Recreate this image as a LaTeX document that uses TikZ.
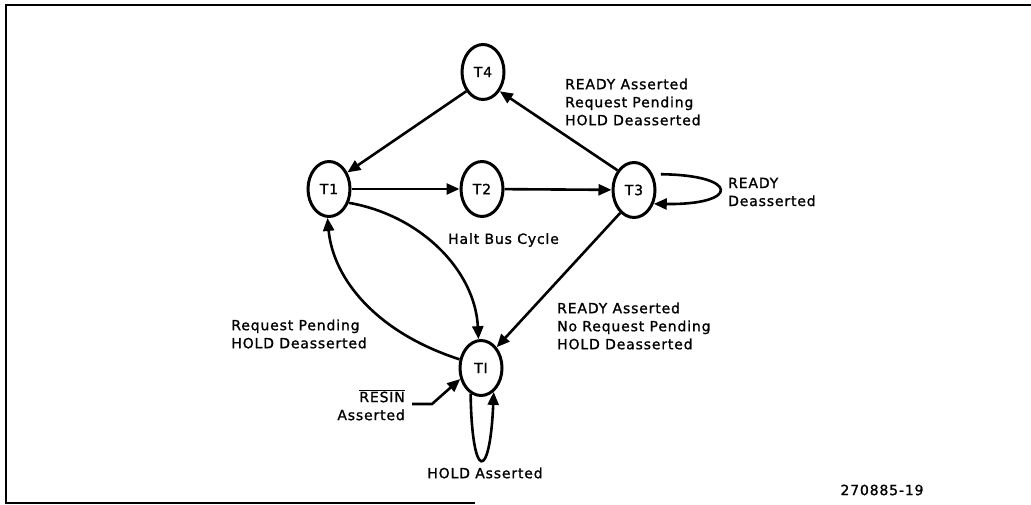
\documentclass[tikz,border=0pt]{standalone}
\usepackage{fontspec}
\setmainfont{DejaVu Sans}[LetterSpace=6,FakeBold=1.2]
\usetikzlibrary{arrows.meta,shapes.geometric}
\begin{document}
\begin{tikzpicture}[x=1pt,y=-1pt,
  state/.style={ellipse,draw,line width=3pt,minimum width=42pt,minimum height=55pt,inner sep=0pt,font=\fontsize{14}{18}\selectfont},
  lbl/.style={font=\fontsize{14}{18}\selectfont,inner sep=0pt},
  arr/.style={line width=2.6pt,-{Triangle[length=13pt,width=11pt]}},
  frame/.style={line width=1.5pt}]
\useasboundingbox (0,0) rectangle (1031,505);
% frame
\draw[frame] (1031,5) -- (6,5) -- (6,503) -- (475,503);
% states
\node[state] (t4) at (483,72) {T4};
\node[state] (t1) at (329,189) {T1};
\node[state] (t2) at (482,189) {T2};
\node[state] (t3) at (634,190) {T3};
\node[state] (ti) at (481,368) {TI};
% transitions
\draw[arr] (t4.-131) -- (t1.42);
\draw[arr] (t3.130) -- (t4.-49);
\draw[arr] (t1) -- (t2);
\draw[arr] (t2) -- (t3);
\draw[arr,shorten <=8pt] (t3.40) .. controls (740,175) and (740,205) .. (t3.-35);
\draw[arr] (t1.-35) .. controls (420,215) and (475,270) .. (ti.95);
\draw[arr] (ti.158) .. controls (375,332) and (333,278) .. (t1.-93);
\draw[arr] (t3.-121) -- (ti.53);
\draw[arr] (ti.-112) .. controls (472,482) and (490,482) .. (ti.-62);
\coordinate (rs) at (412,404);
\draw[arr] (rs) -- ++(20,0) -- (ti.-152);
% labels
\node[lbl,anchor=west,align=left] (l1) at (565,102) {READY Asserted\\Request Pending\\HOLD Deasserted};
\node[lbl,anchor=west,align=left] (l2) at (728,192) {READY\\Deasserted};
\node[lbl,anchor=west] (l3) at (448,240) {Halt Bus Cycle};
\node[lbl,anchor=east,align=left] (l4) at (367,334) {Request Pending\\HOLD Deasserted};
\node[lbl,anchor=west,align=left] (l5) at (557,326) {READY Asserted\\No Request Pending\\HOLD Deasserted};
\node[lbl,anchor=east,align=right] (l6) at (405,405) {$\overline{\mbox{RESIN}}$\\Asserted};
\node[lbl] (l7) at (485,473) {HOLD Asserted};
\node[lbl] (l8) at (882,490) {270885-19};
\end{tikzpicture}
\end{document}
